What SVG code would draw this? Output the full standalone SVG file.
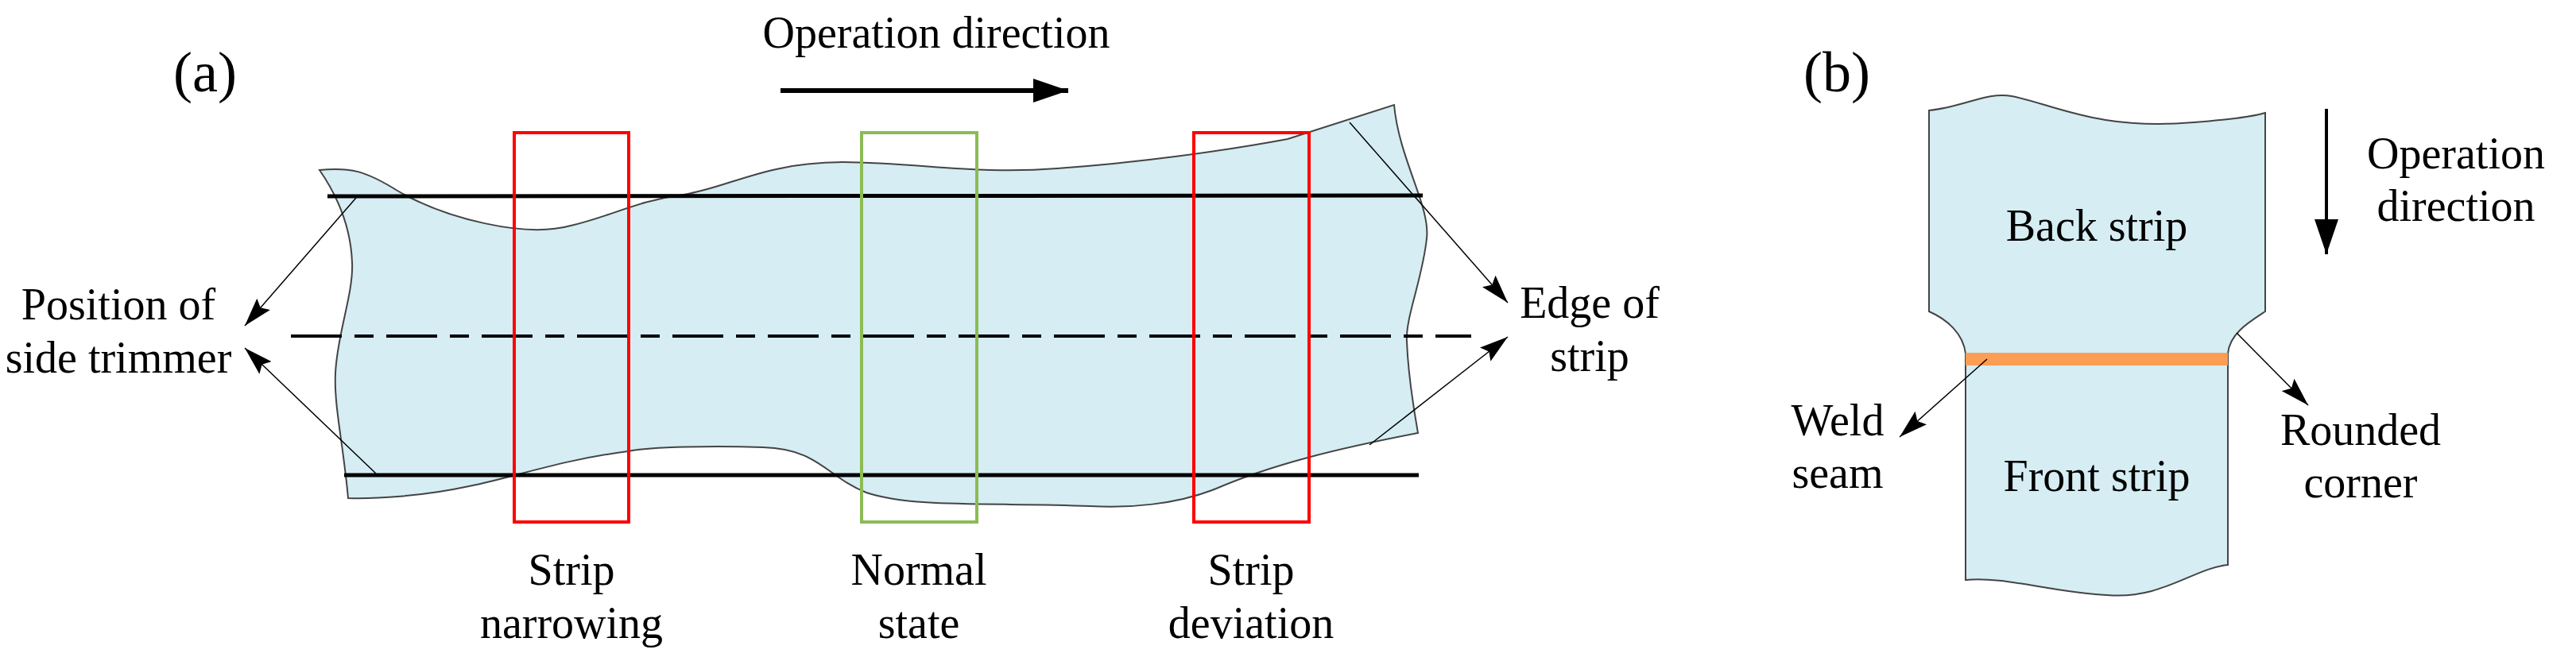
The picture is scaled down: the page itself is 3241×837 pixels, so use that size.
<svg xmlns="http://www.w3.org/2000/svg" width="3241" height="837" viewBox="0 0 3241 837" font-family="'Liberation Serif', 'DejaVu Serif', serif">
<defs>
<style>
text{font-family:'Liberation Serif','DejaVu Serif',serif;font-size:56px;fill:#000}
.strip{fill:#d5edf3;stroke:#444;stroke-width:2}
.lead{stroke:#000;stroke-width:1.5;fill:none}
.thick{stroke:#000;stroke-width:5;fill:none}
.red{fill:none;stroke:#ff0000;stroke-width:4}
.green{fill:none;stroke:#8cbb55;stroke-width:4}
</style>
<marker id="ahb" viewBox="0 0 36 22" refX="36" refY="11" markerWidth="36" markerHeight="22" markerUnits="userSpaceOnUse" orient="auto"><path d="M0,0 L36,11 L0,22 L6,11 Z" fill="#000"/></marker>
<marker id="ahc" viewBox="0 0 44 30" refX="44" refY="15" markerWidth="44" markerHeight="30" markerUnits="userSpaceOnUse" orient="auto"><path d="M0,0 L44,15 L0,30 Z" fill="#000"/></marker>
</defs>
<g id="panel-a-strip">
<path class="strip" d="M402,214 C440,210 460,215 500,240 C560,275 660,300 718,284 C770,272 800,253 860,245 C920,235 960,205 1060,204 C1160,205 1230,220 1330,212 C1430,205 1540,190 1620,175 L1754,132 C1760,200 1800,260 1795,300 C1790,350 1768,400 1770,430 C1772,480 1780,520 1784,545 C1680,565 1600,585 1530,615 C1480,635 1420,640 1371,637 C1250,632 1150,640 1090,620 C1040,600 1030,565 960,563 C900,561 820,562 790,568 C700,580 650,600 590,612 C530,625 470,628 438,627 C432,560 420,510 422,470 C424,420 445,370 443,330 C441,280 420,240 402,214 Z"/>
</g>
<g id="trimmer-lines">
<line class="thick" x1="412" y1="247" x2="1790" y2="246"/>
<line class="thick" x1="433" y1="598" x2="1785" y2="598"/>
<line x1="366" y1="423" x2="1851" y2="423" stroke="#000" stroke-width="4" stroke-dasharray="64,16,24,16"/>
</g>
<g id="box-narrowing"><rect class="red" x="647" y="167" width="144" height="490"/><text x="719" y="736" text-anchor="middle">Strip</text><text x="719" y="803" text-anchor="middle">narrowing</text></g>
<g id="box-normal"><rect class="green" x="1084" y="167" width="145" height="490"/><text x="1156" y="736" text-anchor="middle">Normal</text><text x="1156" y="803" text-anchor="middle">state</text></g>
<g id="box-deviation"><rect class="red" x="1502" y="167" width="145" height="490"/><text x="1574" y="736" text-anchor="middle">Strip</text><text x="1574" y="803" text-anchor="middle">deviation</text></g>
<g id="labels-a">
<text x="258" y="115" text-anchor="middle" style="font-size:72px">(a)</text>
<text x="1178" y="60" text-anchor="middle">Operation direction</text>
<text x="149" y="402" text-anchor="middle">Position of</text>
<text x="149" y="469" text-anchor="middle">side trimmer</text>
<text x="2000" y="400" text-anchor="middle">Edge of</text>
<text x="2000" y="467" text-anchor="middle">strip</text>
</g>
<g id="panel-b-strip">
<path class="strip" d="M2427,139 C2470,135 2500,115 2531,121 C2580,130 2640,165 2760,154 C2800,151 2830,148 2850,142 L2850,392 C2830,405 2805,420 2803,445 L2803,711 C2760,715 2720,755 2651,749 C2580,745 2520,725 2473,730 L2473,445 C2470,420 2450,402 2427,392 Z"/>
<line x1="2473" y1="452" x2="2803" y2="452" stroke="#fb9d52" stroke-width="16"/>
</g>
<g id="labels-b">
<text x="2311" y="115" text-anchor="middle" style="font-size:72px">(b)</text>
<text x="2638" y="303" text-anchor="middle">Back strip</text>
<text x="2638" y="618" text-anchor="middle">Front strip</text>
<text x="3090" y="212" text-anchor="middle">Operation</text>
<text x="3090" y="278" text-anchor="middle">direction</text>
<text x="2312" y="548" text-anchor="middle">Weld</text>
<text x="2312" y="614" text-anchor="middle">seam</text>
<text x="2970" y="560" text-anchor="middle">Rounded</text>
<text x="2970" y="626" text-anchor="middle">corner</text>
</g>
<g id="connectors">
<line x1="982" y1="114" x2="1344" y2="114" stroke="#000" stroke-width="6" marker-end="url(#ahc)"/>
<line x1="2927" y1="137" x2="2927" y2="320" stroke="#000" stroke-width="4" marker-end="url(#ahc)"/>
<line class="lead" x1="448" y1="249" x2="308" y2="410" marker-end="url(#ahb)"/>
<line class="lead" x1="473" y1="596" x2="308" y2="438" marker-end="url(#ahb)"/>
<line class="lead" x1="1698" y1="154" x2="1897" y2="381" marker-end="url(#ahb)"/>
<line class="lead" x1="1723" y1="560" x2="1897" y2="424" marker-end="url(#ahb)"/>
<line class="lead" x1="2500" y1="452" x2="2390" y2="550" marker-end="url(#ahb)"/>
<line class="lead" x1="2814" y1="419" x2="2904" y2="510" marker-end="url(#ahb)"/>
</g>
</svg>
